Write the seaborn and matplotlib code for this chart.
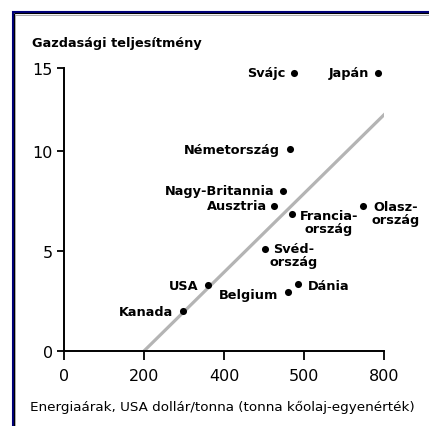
import numpy as np
import pandas as pd
import matplotlib
matplotlib.use("Agg")
import matplotlib.pyplot as plt
from matplotlib.lines import Line2D
import seaborn as sns

# ---- data ----
countries = ["Svájc", "Japán", "Németország", "Nagy-Britannia", "Ausztria",
             "Francia-\nország", "Olasz-\nország", "Svéd-\nország", "USA",
             "Kanada", "Belgium", "Dánia"]
energy_price = [574, 785, 566, 548, 526, 569, 747, 503, 360, 297, 561, 584]
performance = [14.7, 14.7, 10.1, 8.0, 7.25, 6.85, 7.25, 5.1, 3.3, 2.0, 2.95, 3.35]
trend_x = [200, 708, 805]
trend_y = [0, 10, 12.3]
x_ticks = [0, 200, 400, 600, 800]
x_tick_labels = ["0", "200", "400", "500", "800"]
y_ticks = [0, 5, 10, 15]
y_tick_labels = ["0", "5", "10", "15"]
title_text = "Gazdasági teljesítmény"
xlabel_text = "Energiaárak, USA dollár/tonna (tonna kőolaj-egyenérték)"

# label placement (offset in px, alignment)
label_pos = {
    "Svájc": (-8, 0, "right", "center"),
    "Japán": (-9, 0, "right", "center"),
    "Németország": (-11, 0, "right", "center"),
    "Nagy-Britannia": (-9, 0, "right", "center"),
    "Ausztria": (-7, 0, "right", "center"),
    "Francia-\nország": (8, 5, "left", "top"),
    "Olasz-\nország": (9, 6, "left", "top"),
    "Svéd-\nország": (28, 7, "center", "top"),
    "USA": (-10, 0, "right", "center"),
    "Kanada": (-10, 0, "right", "center"),
    "Belgium": (-10, -2, "right", "center"),
    "Dánia": (10, -1, "left", "center"),
}

df = pd.DataFrame({"country": countries, "x": energy_price, "y": performance})
trend = pd.DataFrame({"x": trend_x, "y": trend_y})

sns.set_style("white")
plt.rcParams["font.family"] = ["DejaVu Sans"]
plt.rcParams["text.color"] = "black"

W, H = 429, 427
fig = plt.figure(figsize=(W / 100, H / 100), dpi=100)
fig.patch.set_facecolor("white")

x0, x1 = 64, 384
yb, yt = 352, 69
ax = fig.add_axes([x0 / W, (H - yb) / H, (x1 - x0) / W, (yb - yt) / H])

K = 0.83
def fwd(v):
    v = np.asarray(v, dtype=float)
    return np.where(v <= 10, v, 10 + (v - 10) * K)
def inv(v):
    v = np.asarray(v, dtype=float)
    return np.where(v <= 10, v, 10 + (v - 10) / K)

sns.lineplot(data=trend, x="x", y="y", ax=ax, color="#b4b4b4", linewidth=2.3,
             sort=False, estimator=None)
sns.scatterplot(data=df, x="x", y="y", ax=ax, color="black", s=26,
                edgecolor="black", linewidth=0, zorder=5)

ax.set_yscale("function", functions=(fwd, inv))
ax.set_xlim(0, 800)
ax.set_ylim(0, 15)
ax.set_xticks(x_ticks)
ax.set_xticklabels(x_tick_labels)
ax.set_yticks(y_ticks)
ax.set_yticklabels(y_tick_labels)
ax.minorticks_off()
ax.set_xlabel("")
ax.set_ylabel("")

for s in ["top", "right"]:
    ax.spines[s].set_visible(False)
for s in ["left", "bottom"]:
    ax.spines[s].set_linewidth(1.4)
    ax.spines[s].set_color("black")
ax.tick_params(axis="x", direction="out", length=6.5, width=1.3, pad=5.5,
               labelsize=11.5, colors="black", bottom=True)
ax.tick_params(axis="y", direction="out", length=5, width=1.3, pad=3,
               labelsize=11.5, colors="black", left=True)
ax.patch.set_alpha(0)

pt = 72 / 100
for c, xv, yv in zip(countries, energy_price, performance):
    dx, dy, ha, va = label_pos[c]
    ax.annotate(c, (xv, yv), xytext=(dx * pt, dy * pt), textcoords="offset points",
                ha=ha, va=va, fontsize=9.3, fontweight="bold",
                multialignment="center", linespacing=1.0, color="black")

fig.text(32 / W, 1 - 44 / H, title_text, fontsize=9.3, fontweight="bold",
         ha="left", va="center", color="black")
fig.text(30 / W, 1 - 407 / H, xlabel_text, fontsize=9.7,
         ha="left", va="center", color="black")

# frame (navy + black) on left and top
def px_line(xs, ys, color, lw):
    fig.add_artist(Line2D([x / W for x in xs], [1 - y / H for y in ys],
                          transform=fig.transFigure, color=color, linewidth=lw,
                          solid_capstyle="butt"))
px_line([12.5, 12.5], [11.5, H], "#00007a", 1.5)
px_line([11.5, W], [12.5, 12.5], "#00007a", 1.5)
px_line([14.3, 14.3], [13.8, H], "black", 0.8)
px_line([13.8, W], [14.3, 14.3], "black", 0.8)
px_line([15.5, 15.5], [15.0, H], "#a0a0a0", 0.6)
px_line([15.0, W], [15.5, 15.5], "#a0a0a0", 0.6)

fig.savefig("out.png", dpi=100)
